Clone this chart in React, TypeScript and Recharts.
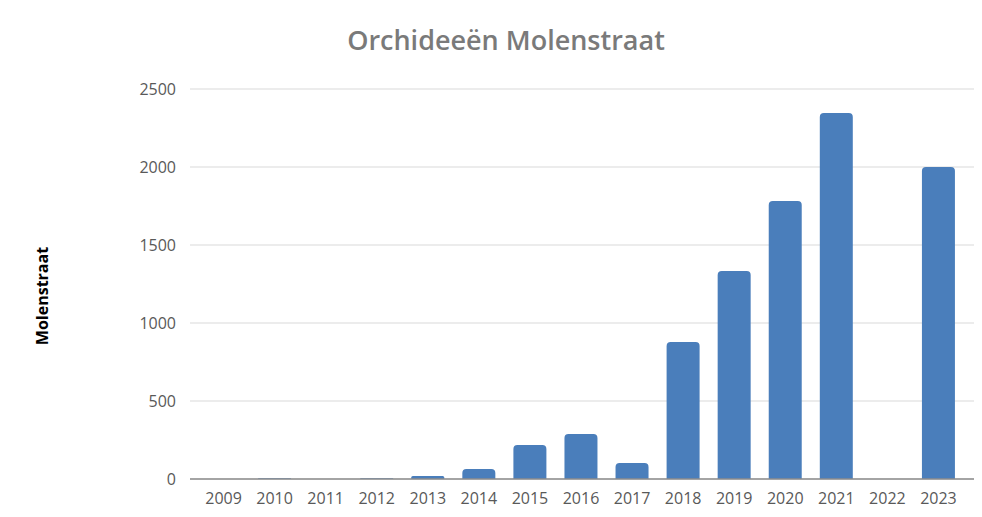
import { BarChart, Bar, XAxis, YAxis, CartesianGrid } from 'recharts'

const years = ['2009', '2010', '2011', '2012', '2013', '2014', '2015', '2016', '2017', '2018', '2019', '2020', '2021', '2022', '2023']
const counts = [0, 5, 0, 5, 20, 64, 218, 288, 103, 878, 1333, 1782, 2346, 0, 2000]
const yTicks = [0, 500, 1000, 1500, 2000, 2500]

const title = 'Orchideeën Molenstraat'
const yLabel = 'Molenstraat'

const data = years.map((year, i) => ({ year, value: counts[i] }))

export default function App() {
  return (
    <div style={{ position: 'relative', width: 966, height: 501, fontFamily: '"Open Sans", sans-serif', background: '#fff' }}>
      <div
        style={{
          position: 'absolute',
          top: 13,
          left: 0,
          width: 996,
          textAlign: 'center',
          fontSize: 27,
          fontWeight: 600,
          color: '#7a7a7a',
          whiteSpace: 'nowrap',
        }}
      >
        {title}
      </div>
      <div
        style={{
          position: 'absolute',
          left: 34 - 70,
          top: 288 - 11,
          width: 140,
          height: 22,
          lineHeight: '22px',
          textAlign: 'center',
          transform: 'rotate(-90deg)',
          fontSize: 16,
          fontWeight: 700,
          color: '#000',
        }}
      >
        {yLabel}
      </div>
      <BarChart
        width={966}
        height={501}
        data={data}
        margin={{ top: 81, right: 0, left: 0, bottom: 0 }}
        barSize={33}
        style={{ position: 'absolute', top: 0, left: 0 }}
      >
        <CartesianGrid vertical={false} stroke="#d9d9d9" />
        <XAxis
          dataKey="year"
          height={30}
          padding={{ left: 8, right: 10 }}
          tickLine={false}
          axisLine={{ stroke: '#8c8c8c', strokeWidth: 1.5 }}
          tick={{ fontSize: 16, fill: '#595959' }}
          tickMargin={8}
          interval={0}
        />
        <YAxis
          width={182}
          domain={[0, 2500]}
          ticks={yTicks}
          tickLine={false}
          axisLine={false}
          tick={{ fontSize: 16, fill: '#595959' }}
          tickMargin={8}
        />
        <Bar dataKey="value" fill="#4a7ebb" radius={[4, 4, 0, 0]} isAnimationActive={false} />
      </BarChart>
    </div>
  )
}
